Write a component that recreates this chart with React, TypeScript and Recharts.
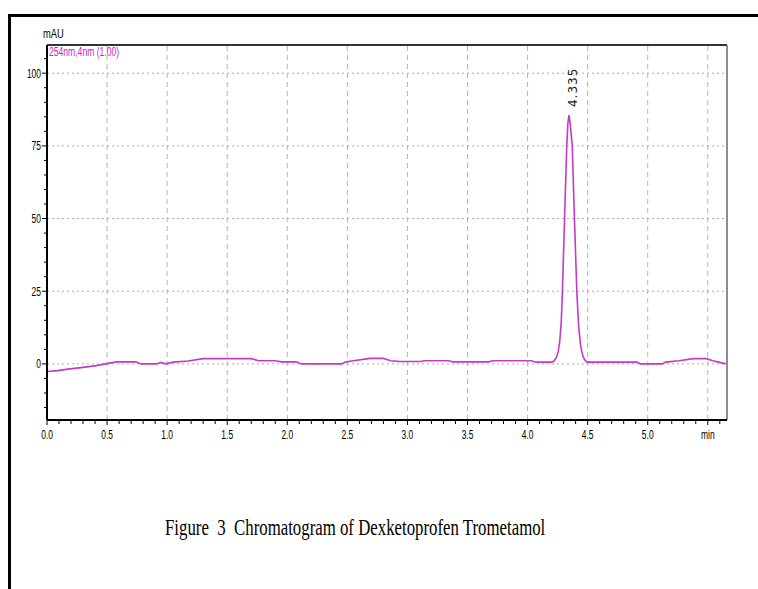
import { LineChart, Line, XAxis, YAxis, ReferenceLine, ReferenceDot } from 'recharts';

// ── Données ────────────────────────────────────────────────

const retentionMin = [
  0, 0.09, 0.175, 0.3, 0.41, 0.49, 0.575, 0.74, 0.78, 0.91, 0.95, 0.99, 1.05, 1.175, 1.3,
  1.7, 1.76, 1.9, 1.95, 2.075, 2.12, 2.45, 2.49, 2.55, 2.69, 2.8, 2.86, 2.94, 3.11, 3.14,
  3.34, 3.38, 3.675, 3.71, 4.03, 4.07, 4.2, 4.217, 4.24, 4.255, 4.267, 4.28, 4.29, 4.308,
  4.326, 4.336, 4.345, 4.354, 4.372, 4.39, 4.41, 4.425, 4.44, 4.45, 4.46, 4.475, 4.495,
  4.91, 4.94, 5.12, 5.15, 5.26, 5.38, 5.49, 5.54, 5.59, 5.65,
];

const signalMAU = [
  -2.6, -2.3, -1.8, -1.2, -0.6, 0, 0.7, 0.7, 0, 0, 0.5, 0, 0.6, 1.0, 1.8,
  1.8, 1.1, 1.1, 0.7, 0.7, 0, 0, 0.7, 1.1, 1.9, 1.9, 1.1, 0.8, 0.8, 1.1,
  1.1, 0.7, 0.7, 1.1, 1.1, 0.6, 0.6, 0.9, 2.2, 4.2, 7.5, 14, 25, 50,
  75, 83, 85.6, 83, 75, 50, 25, 13, 7, 4.5, 2.8, 1.4, 0.6,
  0.6, 0, 0, 0.6, 1.1, 1.8, 1.8, 1.1, 0.6, 0,
];

const peakTimes = [4.345];
const peakHeights = [85.6];
const peakLabels = ['4.335'];

const xMajorTicks = [0, 0.5, 1, 1.5, 2, 2.5, 3, 3.5, 4, 4.5, 5, 5.5];
const xMajorLabels = ['0.0', '0.5', '1.0', '1.5', '2.0', '2.5', '3.0', '3.5', '4.0', '4.5', '5.0', 'min'];
const xAllTicks = [
  0, 0.1, 0.2, 0.3, 0.4, 0.5, 0.6, 0.7, 0.8, 0.9, 1, 1.1, 1.2, 1.3, 1.4, 1.5, 1.6, 1.7, 1.8, 1.9,
  2, 2.1, 2.2, 2.3, 2.4, 2.5, 2.6, 2.7, 2.8, 2.9, 3, 3.1, 3.2, 3.3, 3.4, 3.5, 3.6, 3.7, 3.8, 3.9,
  4, 4.1, 4.2, 4.3, 4.4, 4.5, 4.6, 4.7, 4.8, 4.9, 5, 5.1, 5.2, 5.3, 5.4, 5.5, 5.6,
];
const xGrid = [0.5, 1, 1.5, 2, 2.5, 3, 3.5, 4, 4.5, 5, 5.5];

const yMajorTicks = [0, 25, 50, 75, 100];
const yAllTicks = [-15, -10, -5, 0, 5, 10, 15, 20, 25, 30, 35, 40, 45, 50, 55, 60, 65, 70, 75, 80, 85, 90, 95, 100, 105];

const X_MIN = 0;
const X_MAX = 5.66;
const Y_MIN = -19.3;
const Y_MAX = 109.7;

const data = retentionMin.map((t, i) => ({ t, v: signalMAU[i] }));

const TRACE = '#c43ac4';
const NARROW = "'Liberation Sans', Arial, sans-serif";

// ── Ticks ──────────────────────────────────────────────────

function XTick({ x, y, payload }: any) {
  const idx = xMajorTicks.indexOf(payload.value);
  const major = idx >= 0;
  return (
    <g>
      <line x1={x} y1={y} x2={x} y2={y + (major ? 5 : 4)} stroke="#000" strokeWidth={1} />
      {major && (
        <text
          transform={`translate(${x},${y + 19}) scale(0.65,1)`}
          textAnchor="middle"
          fontFamily={NARROW}
          fontSize={13}
          fill="#000"
        >
          {xMajorLabels[idx]}
        </text>
      )}
    </g>
  );
}

function YTick({ x, y, payload }: any) {
  const major = yMajorTicks.includes(payload.value);
  return (
    <g>
      <line x1={x} y1={y} x2={x - (major ? 5 : 3)} y2={y} stroke="#000" strokeWidth={1} />
      {major && (
        <text
          transform={`translate(${x - 6},${y + 4.5}) scale(0.65,1)`}
          textAnchor="end"
          fontFamily={NARROW}
          fontSize={13}
          fill="#000"
        >
          {payload.value}
        </text>
      )}
    </g>
  );
}

function PeakLabel({ viewBox, value }: any) {
  const cx = viewBox.x + viewBox.width / 2;
  const cy = viewBox.y + viewBox.height / 2;
  return (
    <text
      transform={`translate(${cx + 4},${cy - 8}) rotate(-90)`}
      textAnchor="start"
      dominantBaseline="central"
      fontFamily="'DejaVu Sans', sans-serif"
      fontSize={12}
      letterSpacing={1}
      fill="#222"
    >
      {value}
    </text>
  );
}

// ── Composant ──────────────────────────────────────────────

export default function App() {
  return (
    <div style={{ position: 'absolute', left: 0, top: 0, width: 758, height: 589, background: '#fff', overflow: 'hidden' }}>
      <div
        style={{
          position: 'absolute',
          left: 8,
          top: 14,
          width: 760,
          height: 590,
          borderTop: '3px solid #000',
          borderLeft: '3px solid #000',
        }}
      />
      <LineChart
        width={758}
        height={589}
        data={data}
        margin={{ top: 45, right: 31, bottom: 139, left: 0 }}
        style={{ position: 'absolute', left: 0, top: 0 }}
      >
        {yMajorTicks.map((v) => (
          <ReferenceLine key={`h${v}`} y={v} stroke="#ababab" strokeDasharray="2 3" strokeWidth={1} />
        ))}
        {xGrid.map((v) => (
          <ReferenceLine key={`v${v}`} x={v} stroke="#b5b5b5" strokeDasharray="5 4" strokeWidth={1} />
        ))}
        <ReferenceLine y={Y_MAX} stroke="#333" strokeWidth={2} />
        <ReferenceLine x={X_MAX} stroke="#666" strokeWidth={1.5} />
        <XAxis
          dataKey="t"
          type="number"
          domain={[X_MIN, X_MAX]}
          allowDataOverflow
          ticks={xAllTicks}
          interval={0}
          tick={<XTick />}
          tickSize={0}
          tickMargin={0}
          tickLine={false}
          axisLine={{ stroke: '#000', strokeWidth: 2 }}
          height={30}
        />
        <YAxis
          type="number"
          domain={[Y_MIN, Y_MAX]}
          allowDataOverflow
          ticks={yAllTicks}
          interval={0}
          tick={<YTick />}
          tickSize={0}
          tickMargin={0}
          tickLine={false}
          axisLine={{ stroke: '#000', strokeWidth: 2 }}
          width={47}
        />
        <Line
          type="linear"
          dataKey="v"
          stroke={TRACE}
          strokeWidth={1.6}
          dot={false}
          isAnimationActive={false}
        />
        {peakTimes.map((t, i) => (
          <ReferenceDot
            key={`p${i}`}
            x={t}
            y={peakHeights[i]}
            r={0}
            fill="none"
            stroke="none"
            label={<PeakLabel value={peakLabels[i]} />}
          />
        ))}
      </LineChart>
      <div
        style={{
          position: 'absolute',
          left: 43,
          top: 26,
          fontFamily: NARROW,
          fontSize: 13,
          transform: 'scaleX(0.72)',
          transformOrigin: 'left',
          color: '#000',
        }}
      >
        mAU
      </div>
      <div
        style={{
          position: 'absolute',
          left: 49,
          top: 44,
          fontFamily: NARROW,
          fontSize: 13,
          whiteSpace: 'nowrap',
          transform: 'scaleX(0.66)',
          transformOrigin: 'left',
          color: '#cc22cc',
        }}
      >
        254nm,4nm (1.00)
      </div>
      <div
        style={{
          position: 'absolute',
          left: 165,
          top: 514,
          fontFamily: "'Liberation Serif', 'Times New Roman', serif",
          fontSize: 24,
          whiteSpace: 'nowrap',
          transform: 'scaleX(0.70)',
          transformOrigin: 'left',
          color: '#000',
        }}
      >
        Figure&nbsp; 3&nbsp; Chromatogram of Dexketoprofen Trometamol
      </div>
    </div>
  );
}
